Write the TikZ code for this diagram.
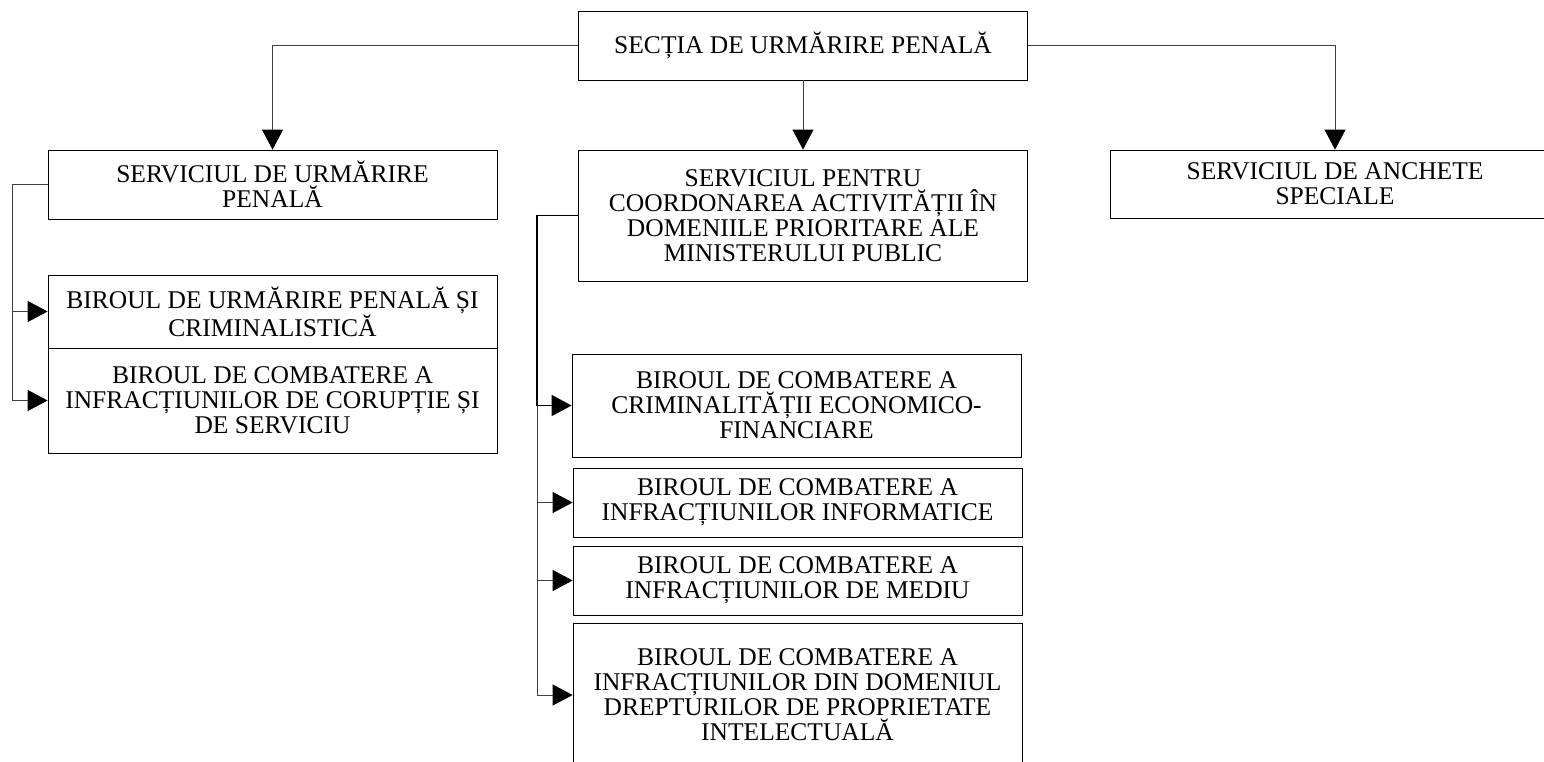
\documentclass[tikz,border=0pt]{standalone}
\usepackage{fontspec}
\setmainfont{Liberation Serif}
\usetikzlibrary{positioning,calc,arrows.meta}
\tikzset{font=\fontsize{25.5}{25}\selectfont}

\begin{document}
\begin{tikzpicture}[x=1pt, y=-1pt]
	\useasboundingbox (0, 0) rectangle (1544, 761);
	\begin{scope}
		\tikzstyle{every node}=[align=center, inner sep=0pt]
		\tikzstyle{box}=[draw, line width=0.8pt, minimum width=449pt]
		\tikzstyle{arr}=[draw=black!75, line width=0.9pt, -{Triangle[length=20pt, width=21pt, black]}]

		\node[box, minimum height=69pt] (sup) at (803, 45.5) {SECȚIA DE URMĂRIRE PENALĂ};

		\node[box, minimum height=69pt] (serup) at (272.5, 184.5) {SERVICIUL DE URMĂRIRE\\PENALĂ};
		\node[box, minimum height=131pt] (serco) at (803, 215.5) {SERVICIUL PENTRU\\COORDONAREA ACTIVITĂȚII ÎN\\DOMENIILE PRIORITARE ALE\\MINISTERULUI PUBLIC};
		\node[box, minimum height=68pt] (seras) at (1335, 184) {SERVICIUL DE ANCHETE\\SPECIALE};

		\node[box, minimum height=73pt] (bupc) at (272.5, 311.5) {BIROUL DE URMĂRIRE PENALĂ ȘI\\CRIMINALISTICĂ};
		\node[box, minimum height=105pt] (bcic) at (272.5, 400.5) {BIROUL DE COMBATERE A\\INFRACȚIUNILOR DE CORUPȚIE ȘI\\DE SERVICIU};

		\node[box, minimum height=103pt] (bcef) at (796.5, 405.5) {BIROUL DE COMBATERE A\\CRIMINALITĂȚII ECONOMICO-\\FINANCIARE};
		\node[box, minimum height=69pt] (bcii) at (797.5, 502.5) {BIROUL DE COMBATERE A\\INFRACȚIUNILOR INFORMATICE};
		\node[box, minimum height=69pt] (bcim) at (797.5, 580.5) {BIROUL DE COMBATERE A\\INFRACȚIUNILOR DE MEDIU};
		\node[box, minimum height=144pt] (bcpi) at (797.5, 695) {BIROUL DE COMBATERE A\\INFRACȚIUNILOR DIN DOMENIUL\\DREPTURILOR DE PROPRIETATE\\INTELECTUALĂ};

		% sectia -> servicii
		\draw [arr] (sup.west) -| (serup.north);
		\draw [arr] (sup.south) -- (serco.north);
		\draw [arr] (sup.east) -| (seras.north);

		% serviciul de urmarire penala -> birouri
		\draw [arr] (serup.west) -- ++(-35, 0) |- (bupc.west);
		\draw [arr] (serup.west) -- ++(-35, 0) |- (bcic.west);

		% serviciul pentru coordonare -> birouri
		\draw [arr] (serco.west) -- ++(-41, 0) |- (bcii.west);
		\draw [arr] (serco.west) -- ++(-41, 0) |- (bcim.west);
		\draw [arr] (serco.west) -- ++(-41, 0) |- (bcpi.west);
		\draw [arr, draw=black, line width=1.6pt] (serco.west) -- ++(-41, 0) |- (bcef.west);
	\end{scope}
\end{tikzpicture}
\end{document}
